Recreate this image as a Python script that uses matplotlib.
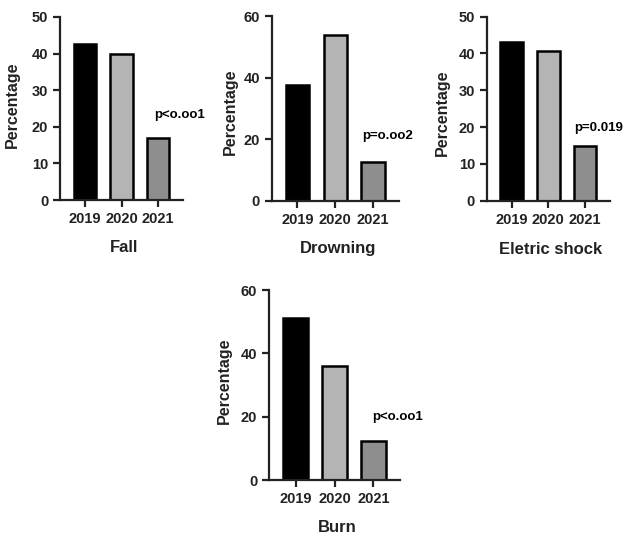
"""Injury type percentages by year, four bar panels."""

import matplotlib

matplotlib.use("Agg")

import matplotlib.pyplot as plt

plt.rcParams["font.family"] = ["Liberation Sans", "DejaVu Sans"]
plt.rcParams["font.weight"] = "bold"

years = ["2019", "2020", "2021"]
fall = [42.7, 39.8, 16.9]
drowning = [37.5, 53.9, 12.6]
electric_shock = [43.1, 40.7, 14.9]
burn = [51.3, 36.0, 12.3]

titles = ["Fall", "Drowning", "Eletric shock", "Burn"]
p_values = ["p<o.oo1", "p=o.oo2", "p=0.019", "p<o.oo1"]
y_max = [50, 60, 50, 60]
y_step = [10, 20, 10, 20]

bar_colors = ["#000000", "#b4b4b4", "#8e8e8e"]

W, H = 629, 535
# pixel boxes: left, right, bottom, top
boxes = [
    (60, 183, 200, 17),
    (271.7, 399, 200.7, 16),
    (486.7, 610, 200.7, 16.7),
    (269, 400, 480, 290),
]
ylabel_pos = [(-0.39, 0.52), (-0.322, 0.48), (-0.357, 0.48), (-0.341, 0.52)]
xlabel_px = [248, 249, 250, 528]
ptext_pos = [(1.9, 23.2), (1.70, 21.0), (1.71, 19.8), (1.97, 19.8)]


def draw_panel(fig, box, values, title, ptext, ymax, ystep, ylab, xlab_y, ppos):
    left, right, bottom, top = box
    ax = fig.add_axes([left / W, (H - bottom) / H, (right - left) / W, (bottom - top) / H])
    ax.bar(range(len(years)), values, width=0.62, color=bar_colors,
           edgecolor="black", linewidth=1.8)
    ax.set_xlim(-0.68, 2.68)
    ax.set_ylim(0, ymax)
    ax.set_yticks(range(0, ymax + 1, ystep))
    ax.set_xticks(range(len(years)))
    ax.set_xticklabels(years)
    for side in ["top", "right"]:
        ax.spines[side].set_visible(False)
    for side in ["left", "bottom"]:
        ax.spines[side].set_linewidth(1.6)
        ax.spines[side].set_color("#222222")
    ax.tick_params(width=1.6, length=5, labelsize=10.5, colors="#222222")
    for lbl in ax.get_xticklabels() + ax.get_yticklabels():
        lbl.set_fontweight("bold")
    ax.set_ylabel("Percentage", fontsize=11.5, fontweight="bold", color="#222222",
                  va="center")
    ax.yaxis.set_label_coords(*ylab)
    ax.set_xlabel(title, fontsize=12, fontweight="bold", color="#222222", va="center")
    ax.xaxis.set_label_coords(0.52, (bottom - xlab_y) / (bottom - top))
    ax.text(ppos[0], ppos[1], ptext, fontsize=9.5, fontweight="bold",
            va="center", ha="left", clip_on=False)
    return ax


def main():
    fig = plt.figure(figsize=(W / 100, H / 100), dpi=100)
    series = [fall, drowning, electric_shock, burn]
    for i in range(4):
        draw_panel(fig, boxes[i], series[i], titles[i], p_values[i], y_max[i],
                   y_step[i], ylabel_pos[i], xlabel_px[i], ptext_pos[i])
    fig.savefig("out.png", dpi=100)
    plt.close(fig)


if __name__ == "__main__":
    main()
